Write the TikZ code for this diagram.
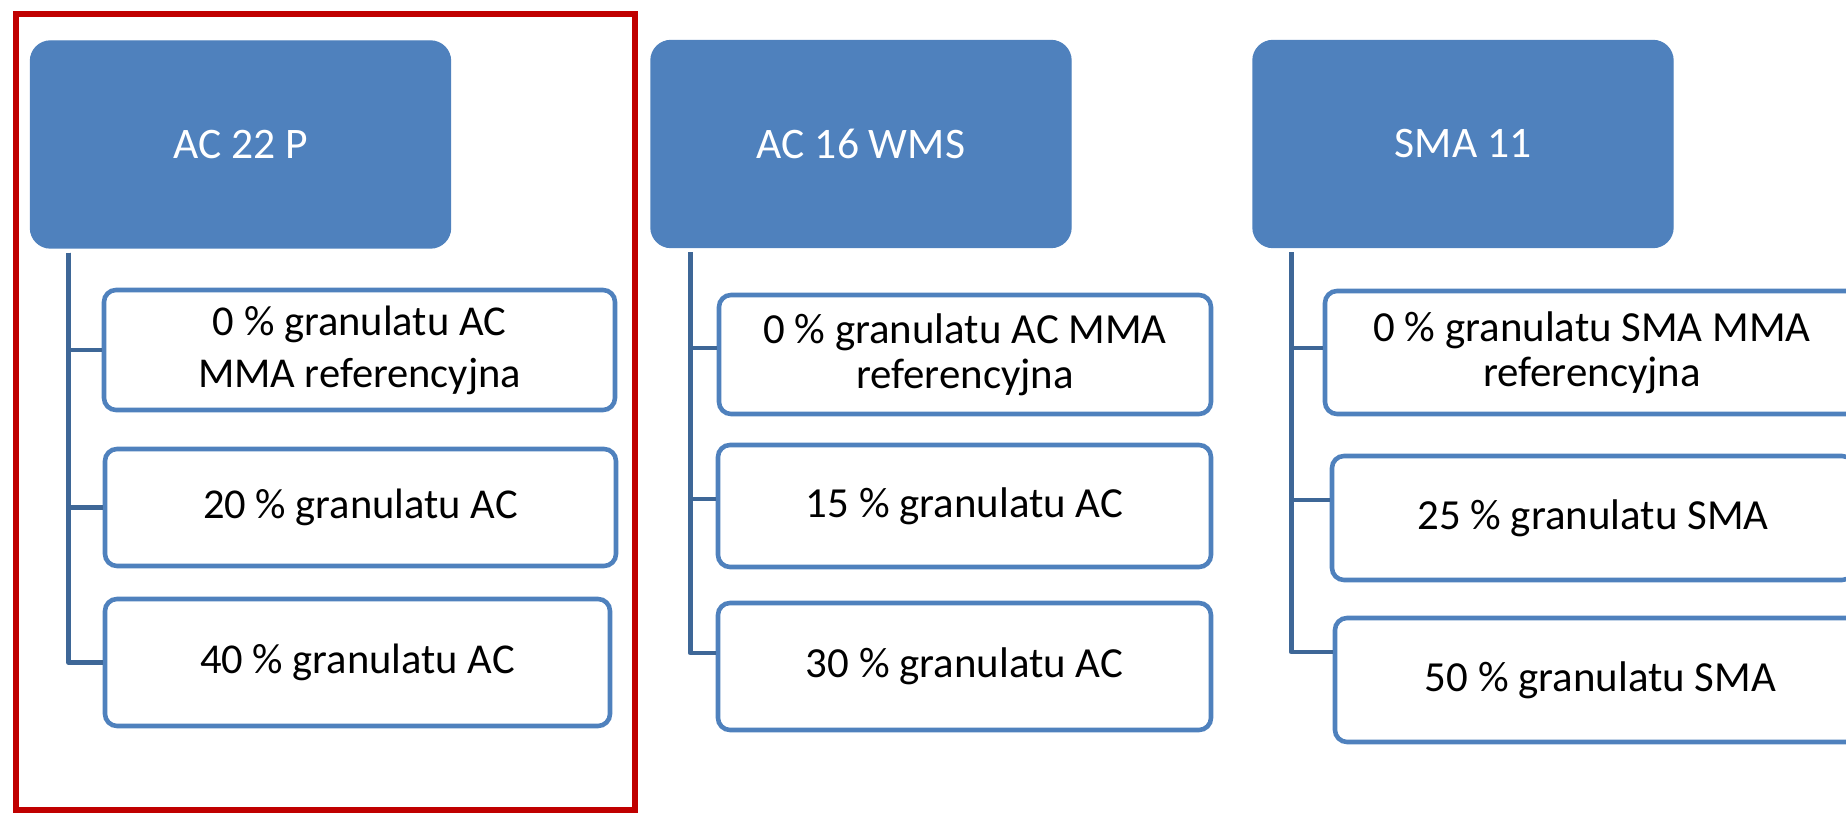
\documentclass[tikz,border=0pt]{standalone}
\usepackage{fontspec}
\setmainfont{Carlito}
\usetikzlibrary{positioning}
\definecolor{headblue}{HTML}{4F81BD}
\definecolor{lineblue}{HTML}{3E6797}
\definecolor{framered}{HTML}{C00000}

\begin{document}
\begin{tikzpicture}
\tikzstyle{mixhead} = [rectangle, rounded corners=0.2cm, minimum width=4.2cm, minimum height=2.07cm, text centered, fill=headblue, draw=headblue, text=white, font=\fontsize{12.4}{15}\selectfont]
\tikzstyle{mixbox} = [rectangle, rounded corners=0.12cm, align=center, draw=headblue, line width=1.3pt, fill=white, inner sep=0pt, font=\fontsize{12.1}{14.8}\selectfont]
\tikzstyle{widebox} = [mixbox, font=\fontsize{12.2}{12.8}\selectfont]
\tikzstyle{branch} = [draw=lineblue, line width=1.4pt, line join=round]

\useasboundingbox (0,0) rectangle (18.46,-8.15);
\clip (0,0) rectangle (18.46,-8.15);

% mixture headers
\node (ac22) [mixhead] at (2.405,-1.445) {AC 22 P};
\node (ac16) [mixhead] at (8.61,-1.44) {AC 16 WMS};
\node (sma11) [mixhead] at (14.63,-1.44) {SMA 11};

% variants of AC 22 P
\node (ac22a) [mixbox, minimum width=5.11cm, minimum height=1.20cm] at (3.595,-3.50) {0 \% granulatu AC\\MMA referencyjna};
\node (ac22b) [mixbox, minimum width=5.11cm, minimum height=1.17cm] at (3.605,-5.075) {20 \% granulatu AC};
\node (ac22c) [mixbox, minimum width=5.05cm, minimum height=1.27cm] at (3.575,-6.625) {40 \% granulatu AC};

% variants of AC 16 WMS
\node (ac16a) [widebox, minimum width=4.92cm, minimum height=1.19cm] at (9.65,-3.545) {0 \% granulatu AC MMA\\referencyjna};
\node (ac16b) [widebox, minimum width=4.93cm, minimum height=1.22cm] at (9.645,-5.06) {15 \% granulatu AC};
\node (ac16c) [widebox, minimum width=4.93cm, minimum height=1.27cm] at (9.645,-6.665) {30 \% granulatu AC};

% variants of SMA 11
\node (smaa) [widebox, minimum width=5.34cm, minimum height=1.23cm] at (15.92,-3.525) {0 \% granulatu SMA MMA\\referencyjna};
\node (smab) [widebox, minimum width=5.22cm, minimum height=1.24cm] at (15.93,-5.18) {25 \% granulatu SMA};
\node (smac) [widebox, minimum width=5.31cm, minimum height=1.24cm] at (16.005,-6.80) {50 \% granulatu SMA};

\draw[branch] ([xshift=0.39cm, yshift=-0.04cm]ac22.south west) |- (ac22a.west);
\draw[branch] ([xshift=0.39cm, yshift=-0.04cm]ac22.south west) |- (ac22b.west);
\draw[branch] ([xshift=0.39cm, yshift=-0.04cm]ac22.south west) |- (ac22c.west);

\draw[branch] ([xshift=0.40cm, yshift=-0.04cm]ac16.south west) |- ([yshift=0.065cm]ac16a.west);
\draw[branch] ([xshift=0.40cm, yshift=-0.04cm]ac16.south west) |- ([yshift=0.07cm]ac16b.west);
\draw[branch] ([xshift=0.40cm, yshift=-0.04cm]ac16.south west) |- ([yshift=0.135cm]ac16c.west);

\draw[branch] ([xshift=0.39cm, yshift=-0.04cm]sma11.south west) |- ([yshift=0.045cm]smaa.west);
\draw[branch] ([xshift=0.39cm, yshift=-0.04cm]sma11.south west) |- ([yshift=0.18cm]smab.west);
\draw[branch] ([xshift=0.39cm, yshift=-0.04cm]sma11.south west) |- ([yshift=0.28cm]smac.west);

% highlight round the first mixture
\draw[framered, line width=0.6mm] (0.156,-0.14) rectangle (6.346,-8.10);

\end{tikzpicture}
\end{document}
